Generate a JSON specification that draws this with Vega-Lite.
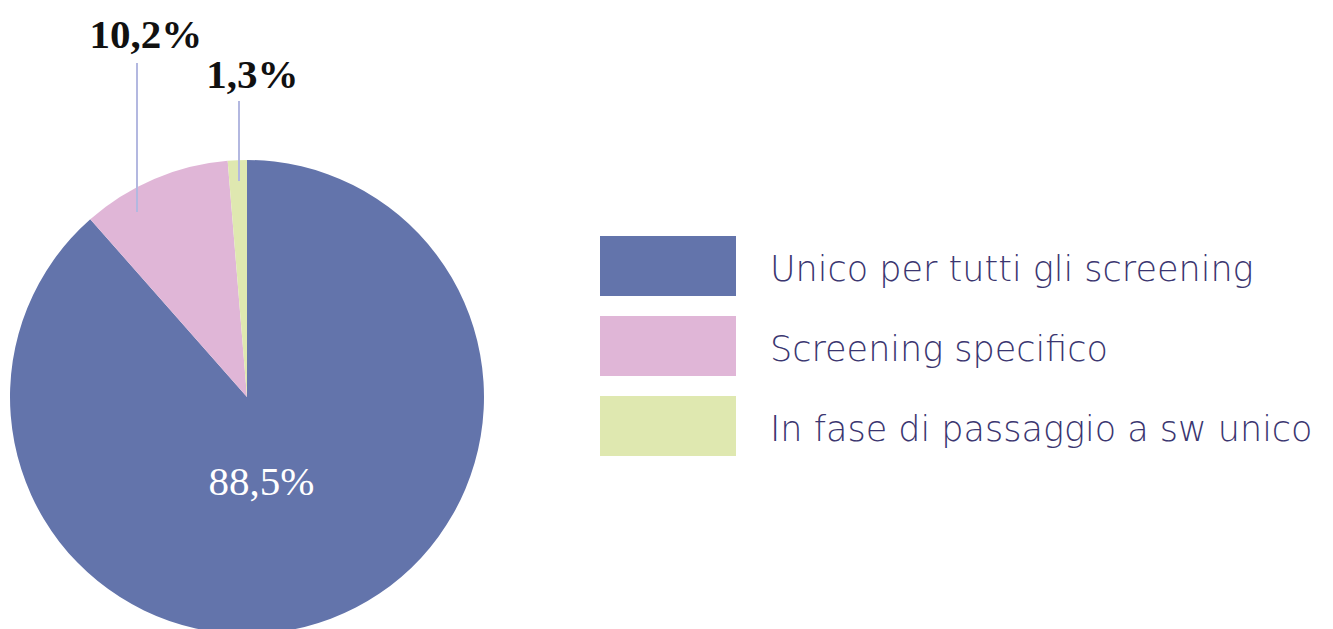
{
  "$schema": "https://vega.github.io/schema/vega-lite/v6.json",
  "background": "white",
  "padding": 0,
  "spacing": 40,
  "center": true,
  "bounds": "flush",
  "config": {
    "view": {"stroke": null},
    "locale": {"number": {"decimal": ",", "thousands": ".", "grouping": [3], "currency": ["€", ""]}}
  },
  "data": {
    "values": [
      {"cat": "Unico per tutti gli screening", "share": 0.885},
      {"cat": "Screening specifico", "share": 0.102},
      {"cat": "In fase di passaggio a sw unico", "share": 0.013}
    ]
  },
  "hconcat": [
    {
      "width": 560,
      "height": 629,
      "layer": [
        {
          "mark": {"type": "arc", "outerRadius": 237},
          "encoding": {
            "theta": {"field": "share", "type": "quantitative", "stack": true},
            "order": {"field": "share", "sort": "descending"},
            "color": {
              "field": "cat", "type": "nominal", "legend": null,
              "scale": {
                "domain": ["Unico per tutti gli screening", "Screening specifico", "In fase di passaggio a sw unico"],
                "range": ["#6374ab", "#e0b6d7", "#dfe8b0"]
              }
            },
            "x": {"datum": 0, "type": "quantitative", "axis": null, "scale": {"domain": [-1.04219, 1.32068], "nice": false, "zero": false}},
            "y": {"datum": 0, "type": "quantitative", "axis": null, "scale": {"domain": [-0.9789, 1.67511], "nice": false, "zero": false}}
          }
        },
        {
          "transform": [{"filter": "datum.cat == 'Screening specifico'"}],
          "mark": {"type": "rule", "color": "#b3b8e0", "strokeWidth": 2},
          "encoding": {
            "x": {"datum": -0.4641, "type": "quantitative"},
            "y": {"datum": 1.4093, "type": "quantitative"},
            "y2": {"datum": 0.7806}
          }
        },
        {
          "transform": [{"filter": "datum.cat == 'In fase di passaggio a sw unico'"}],
          "mark": {"type": "rule", "color": "#b3b8e0", "strokeWidth": 2},
          "encoding": {
            "x": {"datum": -0.0338, "type": "quantitative"},
            "y": {"datum": 1.2489, "type": "quantitative"},
            "y2": {"datum": 0.9114}
          }
        },
        {
          "transform": [{"filter": "datum.cat == 'Unico per tutti gli screening'"}],
          "mark": {"type": "text", "font": "Liberation Serif", "fontSize": 41, "color": "white", "align": "center", "baseline": "alphabetic"},
          "encoding": {
            "text": {"field": "share", "type": "quantitative", "format": ".1%"},
            "x": {"datum": 0.0612, "type": "quantitative"},
            "y": {"datum": -0.4135, "type": "quantitative"}
          }
        },
        {
          "transform": [{"filter": "datum.cat == 'Screening specifico'"}],
          "mark": {"type": "text", "font": "Liberation Serif", "fontSize": 41, "fontWeight": "bold", "color": "#111111", "align": "center", "baseline": "alphabetic"},
          "encoding": {
            "text": {"field": "share", "type": "quantitative", "format": ".1%"},
            "x": {"datum": -0.4262, "type": "quantitative"},
            "y": {"datum": 1.4726, "type": "quantitative"}
          }
        },
        {
          "transform": [{"filter": "datum.cat == 'In fase di passaggio a sw unico'"}],
          "mark": {"type": "text", "font": "Liberation Serif", "fontSize": 41, "fontWeight": "bold", "color": "#111111", "align": "center", "baseline": "alphabetic"},
          "encoding": {
            "text": {"field": "share", "type": "quantitative", "format": ".1%"},
            "x": {"datum": 0.0232, "type": "quantitative"},
            "y": {"datum": 1.3038, "type": "quantitative"}
          }
        }
      ]
    },
    {
      "width": 136,
      "height": 300,
      "encoding": {
        "y": {
          "field": "cat", "type": "nominal", "axis": null,
          "sort": {"field": "share", "order": "descending"},
          "scale": {"paddingInner": 0.25, "paddingOuter": 0.5, "align": 0.894}
        }
      },
      "layer": [
        {
          "mark": {"type": "rect"},
          "encoding": {
            "color": {"field": "cat", "type": "nominal", "legend": null}
          }
        },
        {
          "mark": {"type": "text", "align": "left", "baseline": "alphabetic", "dx": 102, "dy": 15, "font": "DejaVu Sans", "fontWeight": 200, "fontSize": 35, "color": "#3b3670"},
          "encoding": {
            "text": {"field": "cat", "type": "nominal"}
          }
        }
      ]
    }
  ]
}
